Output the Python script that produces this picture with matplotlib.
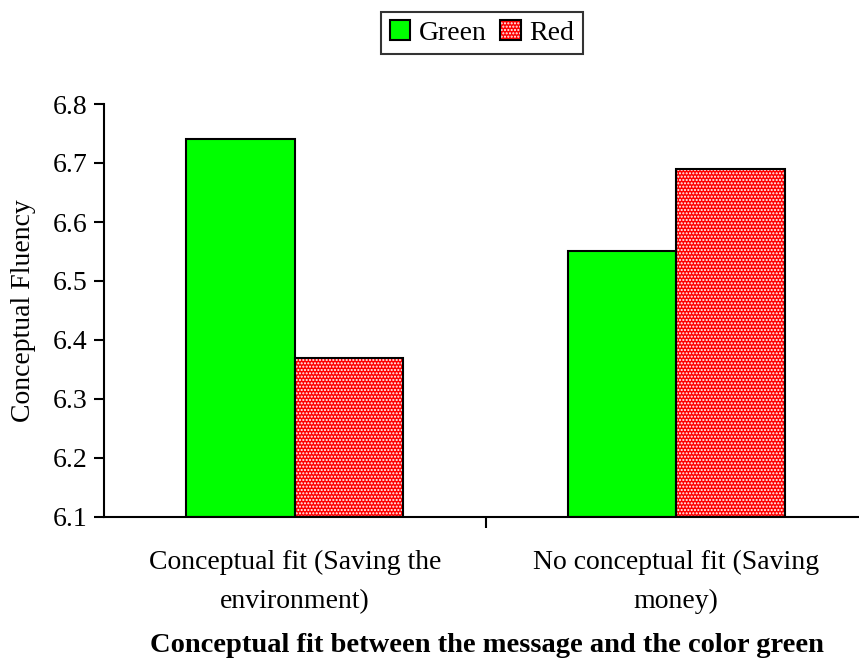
import matplotlib
matplotlib.use("Agg")
import matplotlib.pyplot as plt
import numpy as np
from matplotlib.patches import Patch
from matplotlib.legend_handler import HandlerTuple

categories = ["Conceptual fit (Saving the\nenvironment)", "No conceptual fit (Saving\nmoney)"]
green_values = [6.74, 6.55]
red_values = [6.37, 6.69]
y_ticks = [6.1, 6.2, 6.3, 6.4, 6.5, 6.6, 6.7, 6.8]

plt.rcParams["font.family"] = ["Liberation Serif", "DejaVu Serif"]
plt.rcParams["hatch.linewidth"] = 1.0

FS = 20

fig = plt.figure(figsize=(8.59, 6.59), dpi=100)
ax = fig.add_axes([104 / 859, 142 / 659, 763 / 859, 413 / 659])

x = np.arange(len(categories))
w = 0.284
base = 6.1
hatch = "....."

ax.bar(x - w / 2, np.array(green_values) - base, w, bottom=base,
       color="#00ff00", edgecolor="black", linewidth=1.5, zorder=2)
ax.bar(x + w / 2, np.array(red_values) - base, w, bottom=base,
       color="#ff0000", edgecolor="none", linewidth=0, zorder=2)
ax.bar(x + w / 2, np.array(red_values) - base, w, bottom=base,
       facecolor="none", edgecolor="white", linewidth=0, hatch=hatch, zorder=3)
ax.bar(x + w / 2, np.array(red_values) - base, w, bottom=base,
       facecolor="none", edgecolor="black", linewidth=1.5, zorder=4)

ax.set_xlim(-0.5, 1.5)
ax.set_ylim(6.1, 6.8)
ax.set_yticks(y_ticks)
ax.set_yticklabels([f"{v:.1f}" for v in y_ticks], fontsize=FS)
ax.tick_params(axis="y", direction="out", length=7, width=1.5, pad=5)

ax.set_xticks([0.5])
ax.set_xticklabels([""])
ax.tick_params(axis="x", which="major", direction="out", length=8, width=1.5)
ax.set_xticks(x, minor=True)
ax.set_xticklabels(categories, minor=True, fontsize=FS, linespacing=1.7)
ax.tick_params(axis="x", which="minor", length=0, pad=24)

for s in ["top", "right"]:
    ax.spines[s].set_visible(False)
for s in ["left", "bottom"]:
    ax.spines[s].set_linewidth(1.5)

ax.set_ylabel("Conceptual Fluency", fontsize=FS, labelpad=12)
fig.text(487 / 859, 1 - 645 / 659,
         "Conceptual fit between the message and the color green",
         fontsize=20.5, fontweight="bold", ha="center", va="center")

g_handle = Patch(facecolor="#00ff00", edgecolor="black", linewidth=1.5)
r_base = Patch(facecolor="#ff0000", edgecolor="none")
r_hatch = Patch(facecolor="none", edgecolor="white", linewidth=0, hatch=hatch)
r_edge = Patch(facecolor="none", edgecolor="black", linewidth=1.5)
leg = fig.legend([g_handle, (r_base, r_hatch, r_edge)], ["Green", "Red"],
                 handler_map={tuple: HandlerTuple(ndivide=1, pad=0)},
                 loc="center", bbox_to_anchor=(482 / 859, 1 - 33 / 659),
                 ncol=2, fontsize=FS, frameon=True, fancybox=False,
                 edgecolor="black", handlelength=0.75, handleheight=0.75,
                 handletextpad=0.3, columnspacing=0.5, borderpad=0.3,
                 borderaxespad=0)
leg.get_frame().set_linewidth(1.5)

fig.savefig("out.png", dpi=100)
